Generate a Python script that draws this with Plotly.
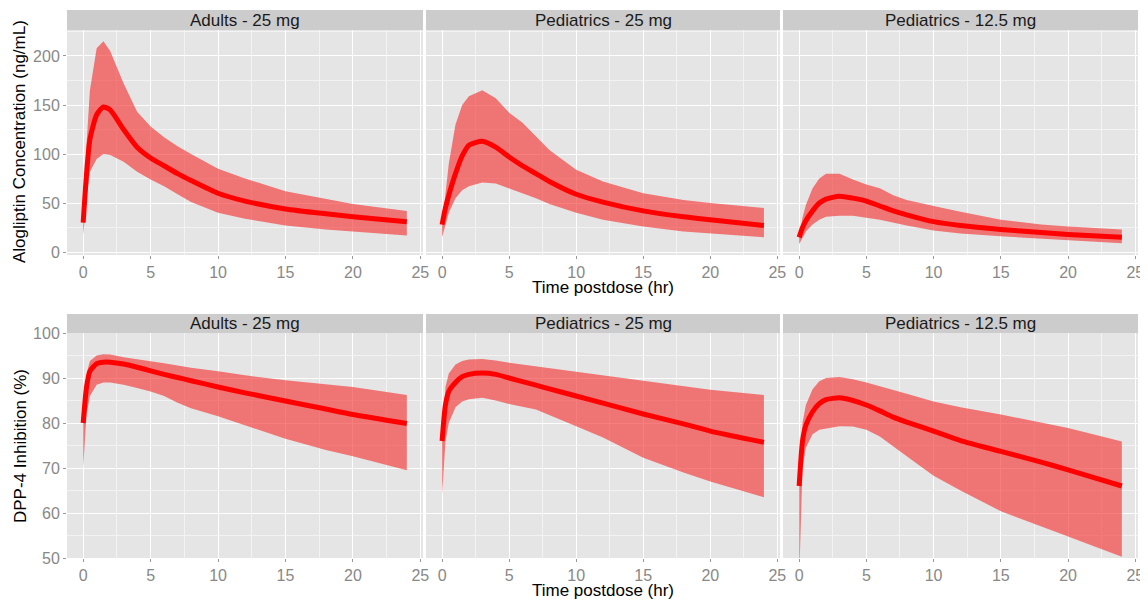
import plotly.graph_objects as go

# ---------------- data ----------------
time_hr = [0, 0.25, 0.5, 1, 1.5, 2, 3, 4, 5, 6, 7, 8, 10, 12, 15, 18, 20, 24]
panel_labels = ["Adults - 25 mg", "Pediatrics - 25 mg", "Pediatrics - 12.5 mg"]

# Alogliptin concentration (ng/mL): median, upper, lower
conc_adult25_med = [30, 80, 115, 140, 148, 145, 125, 107, 96, 88, 80, 73, 60, 52, 44, 39, 36, 31]
conc_adult25_hi  = [30, 110, 165, 208, 215, 205, 172, 143, 128, 117, 108, 100, 85, 75, 62, 54, 49, 42]
conc_adult25_lo  = [17, 55, 82, 95, 100, 99, 92, 82, 74, 67, 59, 51, 40, 34, 27, 23, 21, 17]

conc_ped25_med = [28, 45, 58, 80, 98, 109, 113, 107, 97, 88, 80, 72, 59, 51, 42, 36, 33, 27]
conc_ped25_hi  = [28, 60, 90, 130, 150, 159, 165, 157, 142, 132, 118, 104, 84, 72, 60, 53, 50, 45]
conc_ped25_lo  = [15, 28, 40, 55, 63, 67, 71, 70, 65, 60, 55, 49, 40, 33, 26, 21, 19, 15]

conc_ped125_med = [15, 25, 32, 42, 50, 54, 57, 55, 52, 47, 42, 38, 31, 27, 23, 20, 18, 15]
conc_ped125_hi  = [15, 35, 48, 65, 75, 80, 80, 74, 69, 65, 58, 53, 47, 41, 33, 28, 26, 23]
conc_ped125_lo  = [8, 15, 21, 28, 33, 36, 37, 37, 35, 33, 30, 27, 22, 19, 16, 13, 12, 9]

# DPP-4 inhibition (%): median, upper, lower
inh_adult25_med = [80, 88, 91.5, 93.2, 93.5, 93.5, 93.1, 92.4, 91.6, 90.8, 90.1, 89.4, 88.0, 86.7, 84.9, 83.1, 81.9, 79.9]
inh_adult25_hi  = [80, 91, 93.8, 95, 95.3, 95.2, 94.6, 94.2, 93.8, 93.3, 92.8, 92.3, 91.5, 90.6, 89.5, 88.5, 88, 86.2]
inh_adult25_lo  = [70, 82, 86, 88.5, 89, 89, 88.5, 87.8, 87, 86, 84.5, 83.3, 81.5, 79.5, 76.5, 74, 72.6, 69.5]

inh_ped25_med = [76, 84, 87, 89, 90.3, 90.8, 91.1, 90.8, 90, 89.2, 88.4, 87.6, 86, 84.4, 82, 79.8, 78.2, 75.7]
inh_ped25_hi  = [76, 88, 91, 93, 93.8, 94.1, 94.2, 93.9, 93.4, 93, 92.6, 92.2, 91.4, 90.6, 89.3, 88.1, 87.4, 86.2]
inh_ped25_lo  = [64, 76, 80, 83.5, 84.8, 85.3, 85.6, 85, 84.2, 83.6, 83, 81.8, 79.3, 76.8, 72.3, 69, 67, 63.5]

inh_ped125_med = [66, 76, 79.5, 82.5, 84.3, 85.2, 85.6, 85, 84, 82.7, 81.3, 80.2, 78.2, 76.1, 73.7, 71.3, 69.6, 66]
inh_ped125_hi  = [66, 80, 84, 87.5, 89.3, 90, 90.2, 89.7, 89, 88.2, 87.3, 86.5, 84.8, 83.5, 81.9, 80.1, 78.9, 75.9]
inh_ped125_lo  = [45, 70, 74.5, 77.5, 78.5, 78.8, 79.3, 79.2, 78.5, 77, 74.8, 72.6, 68.3, 65, 60.4, 57, 54.8, 50.3]

x_ticks = [0, 5, 10, 15, 20, 25]
conc_ticks = [0, 50, 100, 150, 200]
inh_ticks = [50, 60, 70, 80, 90, 100]

y_title_top = "Alogliptin Concentration (ng/mL)"
y_title_bottom = "DPP-4 Inhibition (%)"
x_title = "Time postdose (hr)"

# ---------------- layout geometry ----------------
OFF = 8                      # page body margin
W, H = 1148 - OFF, 600 - OFF
FONT = "Liberation Sans, Arial, sans-serif"
PANEL_BG = "#E5E5E5"
STRIP_BG = "#CCCCCC"
TICK_COL = "#888888"
BAND = "rgba(245,55,55,0.65)"

col_px = [(67, 423), (426, 780), (783, 1138)]
row_px = [(30, 255), (333, 558)]        # panel top/bottom in screen px
strip_px = [(10, 30), (314, 333)]

def px_x(p):
    return (p - OFF) / W

def px_y(p):
    return 1 - (p - OFF) / H

rows_data = [
    [(conc_adult25_med, conc_adult25_hi, conc_adult25_lo),
     (conc_ped25_med, conc_ped25_hi, conc_ped25_lo),
     (conc_ped125_med, conc_ped125_hi, conc_ped125_lo)],
    [(inh_adult25_med, inh_adult25_hi, inh_adult25_lo),
     (inh_ped25_med, inh_ped25_hi, inh_ped25_lo),
     (inh_ped125_med, inh_ped125_hi, inh_ped125_lo)],
]
y_ranges = [[-3, 226.5], [50, 100]]
y_ticks = [conc_ticks, inh_ticks]
y_minor = [25, 5]

fig = go.Figure()
layout = dict(
    template="none",
    width=W, height=H, autosize=False,
    margin=dict(l=0, r=0, t=0, b=0, pad=0, autoexpand=False),
    paper_bgcolor="white", plot_bgcolor=PANEL_BG,
    showlegend=False,
    font=dict(family=FONT, size=16, color="#000000"),
)
shapes = []
annotations = []

k = 0
for r in range(2):
    for c in range(3):
        k += 1
        xa = "x" if k == 1 else f"x{k}"
        ya = "y" if k == 1 else f"y{k}"
        med, hi, lo = rows_data[r][c]
        # ribbon
        fig.add_trace(go.Scatter(
            x=time_hr + time_hr[::-1], y=hi + lo[::-1],
            fill="toself", fillcolor=BAND, line=dict(width=0),
            mode="lines", hoverinfo="skip", xaxis=xa, yaxis=ya))
        # median
        fig.add_trace(go.Scatter(
            x=time_hr, y=med, mode="lines",
            line=dict(color="#FF0000", width=5, shape="spline", smoothing=0.6),
            xaxis=xa, yaxis=ya))

        x0, x1 = col_px[c]
        yt, yb = row_px[r]
        layout["xaxis" if k == 1 else f"xaxis{k}"] = dict(
            domain=[px_x(x0), px_x(x1)], anchor=ya, automargin=False,
            range=[-1.2, 25.2], tickvals=x_ticks, ticks="outside",
            ticklen=3, tickcolor="#999999", showline=False, zeroline=False,
            showgrid=True, gridcolor="white", gridwidth=1.3,
            minor=dict(dtick=2.5, tick0=0, showgrid=True, gridcolor="#F3F3F3", gridwidth=0.7),
            tickfont=dict(family=FONT, size=16, color=TICK_COL),
            fixedrange=True,
        )
        layout["yaxis" if k == 1 else f"yaxis{k}"] = dict(
            domain=[px_y(yb), px_y(yt)], anchor=xa, automargin=False,
            range=y_ranges[r], tickvals=y_ticks[r],
            ticks="outside" if c == 0 else "", ticklen=3, tickcolor="#999999",
            showticklabels=(c == 0), showline=False, zeroline=False,
            showgrid=True, gridcolor="white", gridwidth=1.3,
            minor=dict(dtick=y_minor[r], tick0=0, showgrid=True, gridcolor="#F3F3F3", gridwidth=0.7),
            tickfont=dict(family=FONT, size=16, color=TICK_COL),
            fixedrange=True,
        )
        # strip
        st, sb = strip_px[r]
        shapes.append(dict(type="rect", xref="paper", yref="paper",
                           x0=px_x(x0), x1=px_x(x1), y0=px_y(sb), y1=px_y(st),
                           fillcolor=STRIP_BG, line=dict(width=0), layer="below"))
        annotations.append(dict(text=panel_labels[c], xref="paper", yref="paper",
                                x=px_x((x0 + x1) / 2), y=px_y((st + sb) / 2),
                                xanchor="center", yanchor="middle", showarrow=False,
                                font=dict(family=FONT, size=17, color="#1A1A1A")))

# axis titles
annotations.append(dict(text=y_title_top, xref="paper", yref="paper",
                        x=px_x(20), y=px_y(142), textangle=-90, showarrow=False,
                        xanchor="center", yanchor="middle",
                        font=dict(family=FONT, size=17, color="#000000")))
annotations.append(dict(text=y_title_bottom, xref="paper", yref="paper",
                        x=px_x(20), y=px_y(446), textangle=-90, showarrow=False,
                        xanchor="center", yanchor="middle",
                        font=dict(family=FONT, size=17, color="#000000")))
for yc in (287, 590):
    annotations.append(dict(text=x_title, xref="paper", yref="paper",
                            x=px_x(603), y=px_y(yc), showarrow=False,
                            xanchor="center", yanchor="middle",
                            font=dict(family=FONT, size=17, color="#000000")))

layout["shapes"] = shapes
layout["annotations"] = annotations
fig.update_layout(**layout)
fig.write_html("out.html")
